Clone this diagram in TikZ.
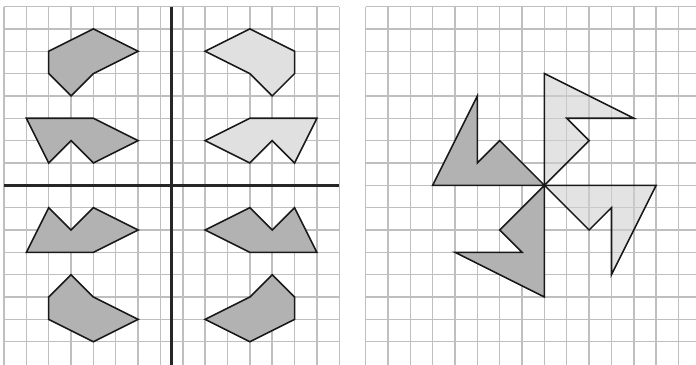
\documentclass[tikz,border=0pt]{standalone}
\begin{document}
\begin{tikzpicture}[x=0.5cm,y=-0.5cm,
  gridline/.style={draw=black!25,line width=0.9pt},
  axisline/.style={draw=black!85,line width=2pt},
  darkshape/.style={draw=black!90,line width=1pt,fill=black!30},
  lightshape/.style={draw=black!90,line width=1pt,fill=black!12},
  glassshape/.style={draw=black!90,line width=1pt,fill=black!18,fill opacity=0.6}]
\useasboundingbox (-0.179,-0.291) rectangle (30.962,16.0);
% left grid
\foreach \i in {0,...,15} \draw[gridline] (\i,0) -- (\i,16.3);
\foreach \j in {0,...,15} \draw[gridline] (0,\j) -- (15,\j);
% right grid
\begin{scope}[shift={(16.18,0)}]
\foreach \i in {0,...,14} \draw[gridline] (\i,0) -- (\i,16.3);
\foreach \j in {0,...,15} \draw[gridline] (0,\j) -- (15,\j);
\end{scope}
% axes
\draw[axisline] (7.5,0) -- (7.5,16.3);
\draw[axisline] (0,8) -- (15,8);
% left grid shapes
\draw[darkshape] (4,1) -- (6,2) -- (4,3) -- (3,4) -- (2,3) -- (2,2) -- cycle;
\draw[darkshape] (1,5) -- (4,5) -- (6,6) -- (4,7) -- (3,6) -- (2,7) -- cycle;
\draw[lightshape] (11,1) -- (9,2) -- (11,3) -- (12,4) -- (13,3) -- (13,2) -- cycle;
\draw[lightshape] (14,5) -- (11,5) -- (9,6) -- (11,7) -- (12,6) -- (13,7) -- cycle;
\draw[darkshape] (1,11) -- (4,11) -- (6,10) -- (4,9) -- (3,10) -- (2,9) -- cycle;
\draw[darkshape] (4,15) -- (6,14) -- (4,13) -- (3,12) -- (2,13) -- (2,14) -- cycle;
\draw[darkshape] (14,11) -- (11,11) -- (9,10) -- (11,9) -- (12,10) -- (13,9) -- cycle;
\draw[darkshape] (11,15) -- (9,14) -- (11,13) -- (12,12) -- (13,13) -- (13,14) -- cycle;
% pinwheel
\begin{scope}[shift={(16.18,0)}]
\draw[glassshape] (8,3) -- (12,5) -- (9,5) -- (10,6) -- (8,8) -- cycle;
\draw[darkshape] (5,4) -- (5,7) -- (6,6) -- (8,8) -- (3,8) -- cycle;
\draw[darkshape] (8,13) -- (4,11) -- (7,11) -- (6,10) -- (8,8) -- cycle;
\draw[glassshape] (13,8) -- (11,12) -- (11,9) -- (10,10) -- (8,8) -- cycle;
\end{scope}
\end{tikzpicture}
\end{document}
